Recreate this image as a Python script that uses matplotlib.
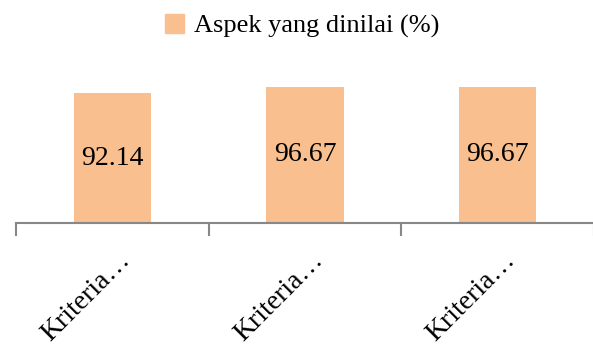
import matplotlib
matplotlib.use('Agg')
import matplotlib.pyplot as plt
from matplotlib.patches import Patch
from matplotlib.transforms import ScaledTranslation

plt.rcParams['font.family'] = ['Liberation Serif', 'DejaVu Serif']

categories = ['Kriteria…', 'Kriteria…', 'Kriteria…']
values = [92.14, 96.67, 96.67]
series_name = 'Aspek yang dinilai (%)'
bar_color = '#F9BF8F'
axis_color = '#878787'

fig = plt.figure(figsize=(5.93, 3.47), dpi=100)
ax = fig.add_axes([16 / 593, 124 / 347, 578 / 593, 141 / 347])

x = list(range(len(categories)))
ax.bar(x, values, width=0.4, color=bar_color)
for i, v in zip(x, values):
    ax.text(i, v / 2, f'{v:.2f}', ha='center', va='center', fontsize=20, color='black')

ax.set_xlim(-0.5, len(categories) - 0.5)
ax.set_ylim(0, 100)
ax.set_yticks([])
for s in ['top', 'right', 'left']:
    ax.spines[s].set_visible(False)
ax.spines['bottom'].set_color(axis_color)
ax.spines['bottom'].set_linewidth(1.5)

ax.set_xticks(x)
ax.set_xticklabels(categories, rotation=45, ha='right', va='center',
                   rotation_mode='anchor', fontsize=20)
ax.tick_params(axis='x', which='major', length=0, pad=24)
shift = ScaledTranslation(14 / 100, 0, fig.dpi_scale_trans)
for lab in ax.get_xticklabels():
    lab.set_transform(lab.get_transform() + shift)
ax.set_xticks([i - 0.5 for i in range(len(categories) + 1)], minor=True)
ax.tick_params(axis='x', which='minor', length=9, width=1.5, color=axis_color)

handles = [Patch(color=bar_color, label=series_name)]
fig.legend(handles=handles, loc='upper center', bbox_to_anchor=(0.51, 1.027),
           frameon=False, fontsize=19, handlelength=0.7, handleheight=0.7,
           handletextpad=0.4)

fig.savefig('out.png', dpi=100, facecolor='white')
